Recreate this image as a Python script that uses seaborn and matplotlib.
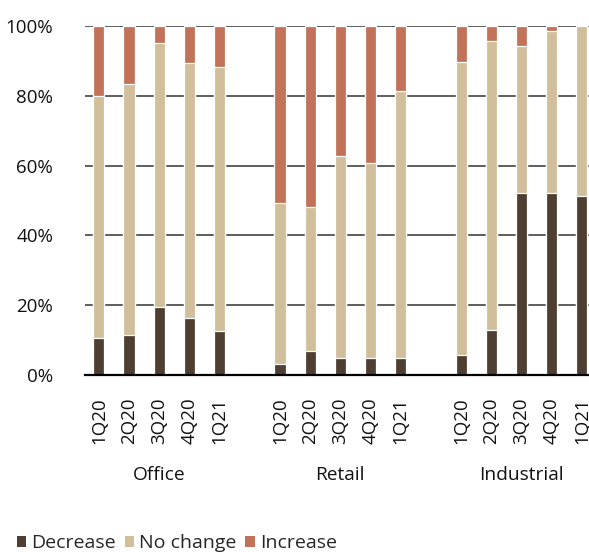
import matplotlib
matplotlib.use("Agg")
import matplotlib.pyplot as plt
import seaborn as sns
import pandas as pd
import numpy as np
from matplotlib.patches import Patch

# Survey responses by sector and quarter (% of respondents)
sectors = ["Office", "Retail", "Industrial"]
quarters = ["1Q20", "2Q20", "3Q20", "4Q20", "1Q21"]

decrease = [10.5, 11.5, 19.4, 16.4, 12.6,
            3.1, 6.9, 5.0, 5.0, 5.0,
            5.7, 12.9, 52.2, 52.2, 51.3]
no_change = [69.5, 72.0, 75.8, 73.1, 75.7,
             46.3, 41.3, 57.8, 55.7, 76.5,
             84.1, 82.8, 42.1, 46.5, 48.7]
increase = [20.0, 16.5, 4.8, 10.5, 11.7,
            50.6, 51.8, 37.2, 39.3, 18.5,
            10.2, 4.3, 5.7, 1.3, 0.0]

colors = {"Decrease": "#4F3E32", "No change": "#D1BE9B", "Increase": "#C17259"}

# Bar positions: five quarters per sector, one empty slot between sectors
positions = []
for g in range(len(sectors)):
    positions += [g * (len(quarters) + 1) + i for i in range(len(quarters))]

df = pd.DataFrame({
    "pos": positions,
    "sector": np.repeat(sectors, len(quarters)),
    "quarter": quarters * len(sectors),
    "Decrease": decrease,
    "No change": no_change,
    "Increase": increase,
})
df["top_dec"] = df["Decrease"]
df["top_nc"] = df["Decrease"] + df["No change"]
df["top_inc"] = df["top_nc"] + df["Increase"]

sns.set_theme(style="white")
plt.rcParams["font.family"] = ["Open Sans", "DejaVu Sans"]

fig = plt.figure(figsize=(5.89, 5.52), dpi=100)
ax = fig.add_axes([85 / 589, 1 - 375 / 552, 505 / 589, (375 - 26) / 552])

bar_w = 0.37
# Stack by overlaying cumulative heights, tallest first
for col, name in [("top_inc", "Increase"), ("top_nc", "No change"), ("top_dec", "Decrease")]:
    sns.barplot(data=df, x="pos", y=col, native_scale=True, width=bar_w,
                color=colors[name], edgecolor="white", linewidth=0.9,
                saturation=1, errorbar=None, ax=ax, zorder=3)

ax.set_ylim(0, 100)
ax.set_xlim(-0.46, 16.27)
ax.set_yticks([0, 20, 40, 60, 80, 100])
ax.set_yticklabels([f"{v}%" for v in [0, 20, 40, 60, 80, 100]])
ax.set_xticks(df["pos"])
ax.set_xticklabels(df["quarter"], rotation=90)
ax.tick_params(axis="y", length=0, pad=23, labelsize=13.5, labelcolor="#111111")
ax.tick_params(axis="x", length=0, pad=16, labelsize=13.5, labelcolor="#111111")
ax.set_xlabel("")
ax.set_ylabel("")

ax.grid(axis="y", color="#333333", linewidth=1.1, zorder=1)
ax.grid(axis="x", visible=False)
for s in ["top", "right", "left"]:
    ax.spines[s].set_visible(False)
ax.spines["bottom"].set_color("black")
ax.spines["bottom"].set_linewidth(1.6)
ax.spines["bottom"].set_zorder(4)

# Sector labels under each group of quarters
for g, sector in enumerate(sectors):
    center = df.loc[df["sector"] == sector, "pos"].mean()
    ax.text(center, -28.6, sector, ha="center", va="center",
            fontsize=13.8, color="#111111", transform=ax.transData)

handles = [Patch(facecolor=colors[n], edgecolor="none") for n in ["Decrease", "No change", "Increase"]]
fig.legend(handles, ["Decrease", "No change", "Increase"], loc="center left",
           bbox_to_anchor=(0.015, 1 - 543 / 552), ncol=3, frameon=False,
           fontsize=14, handlelength=0.5, handleheight=0.5,
           handletextpad=0.25, columnspacing=0.45, borderaxespad=0)

fig.savefig("out.png", dpi=100)
